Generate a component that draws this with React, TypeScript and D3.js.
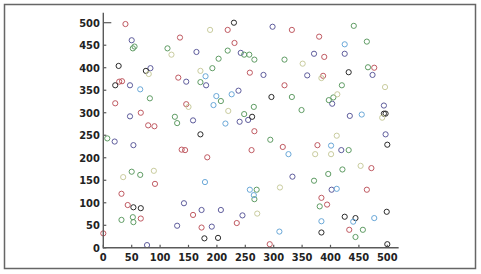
import React from "react";
import * as d3 from "d3";

const redX = [0, 39, 28, 33, 21, 66, 79, 90, 91, 32, 43, 66, 135, 132, 146, 219, 231, 258, 332, 380, 389, 477, 387, 319, 266, 138, 144, 183, 261, 316, 377, 472, 464, 384, 394, 433, 293, 235, 158, 173];
const redY = [32, 497, 369, 370, 321, 300, 272, 270, 142, 120, 95, 65, 467, 378, 319, 484, 455, 389, 484, 469, 424, 400, 382, 361, 259, 218, 217, 201, 217, 224, 228, 177, 129, 111, 96, 40, 8, 55, 73, 45];

const blueX = [50, 83, 47, 47, 20, 53, 77, 146, 164, 181, 242, 282, 298, 371, 425, 474, 359, 238, 158, 240, 255, 419, 403, 434, 494, 497, 333, 402, 245, 142, 173, 207, 130, 191];
const blueY = [461, 399, 361, 292, 236, 228, 6, 369, 435, 361, 433, 384, 491, 431, 431, 384, 383, 349, 283, 280, 284, 217, 320, 293, 316, 252, 158, 129, 72, 99, 84, 84, 49, 47];

const greenX = [52, 55, 82, 7, 50, 65, 32, 52, 53, 113, 171, 192, 203, 219, 248, 257, 266, 319, 441, 464, 466, 332, 349, 207, 126, 130, 248, 265, 294, 432, 397, 405, 420, 421, 396, 371, 381, 457, 444, 270, 266];
const greenY = [443, 447, 332, 243, 169, 162, 62, 68, 57, 443, 368, 399, 420, 438, 429, 429, 418, 418, 493, 458, 401, 335, 306, 326, 291, 277, 297, 313, 240, 217, 328, 334, 361, 174, 164, 149, 92, 40, 24, 129, 108];

const blackX = [27, 75, 21, 53, 66, 230, 432, 296, 262, 171, 494, 497, 500, 384, 425, 444, 499, 500, 178, 202];
const blackY = [404, 393, 361, 90, 88, 500, 390, 335, 291, 252, 298, 298, 229, 34, 69, 66, 80, 8, 21, 22];

const lightBlueX = [65, 180, 226, 199, 194, 215, 326, 401, 425, 455, 411, 384, 440, 477, 310, 258, 265, 179];
const lightBlueY = [352, 381, 341, 337, 317, 276, 208, 227, 452, 296, 131, 59, 58, 66, 36, 129, 117, 146];

const beigeX = [80, 35, 89, 120, 171, 188, 384, 351, 150, 220, 373, 401, 411, 412, 496, 491, 453, 311, 271];
const beigeY = [386, 157, 171, 429, 393, 484, 377, 409, 313, 304, 208, 208, 249, 341, 357, 289, 182, 134, 76];

const yTicks = [0, 50, 100, 150, 200, 250, 300, 350, 400, 450, 500];
const xTicks = [0, 50, 100, 150, 200, 250, 300, 350, 400, 450, 500];

const seriesList = [
  { x: redX, y: redY, color: "#c05a62" },
  { x: blueX, y: blueY, color: "#5e5c9c" },
  { x: greenX, y: greenY, color: "#5f9c64" },
  { x: blackX, y: blackY, color: "#2a2a2a" },
  { x: lightBlueX, y: lightBlueY, color: "#6aa8d8" },
  { x: beigeX, y: beigeY, color: "#c9cc9e" },
];

export default function App() {
  const W = 481;
  const H = 274;
  const x = d3.scaleLinear().domain([0, 500]).range([103.3, 387.3]);
  const y = d3.scaleLinear().domain([0, 500]).range([247.8, 22.7]);
  const axisColor = "#5a5a5a";
  const font = "'Liberation Sans Narrow', 'DejaVu Sans Condensed', sans-serif";
  return (
    <svg width={W} height={H} style={{ position: "absolute", left: 0, top: 0 }}>
      <rect x={0} y={0} width={W} height={H} fill="#fff" />
      <rect x={4.5} y={4.5} width={471} height={264} fill="none" stroke="#666" strokeWidth={1.5} />
      {seriesList.map((s, si) => (
        <g key={si}>
          {s.x.map((vx, i) => (
            <circle key={i} cx={x(vx)} cy={y(s.y[i])} r={2.6} fill="none" stroke={s.color} strokeWidth={1} />
          ))}
        </g>
      ))}
      <line x1={x(0)} x2={x(0)} y1={y(0) + 0.7} y2={y(522)} stroke={axisColor} strokeWidth={1.4} />
      <line x1={x(0)} x2={x(520)} y1={y(0)} y2={y(0)} stroke={axisColor} strokeWidth={1.4} />
      {yTicks.map((t) => (
        <g key={"y" + t}>
          <line x1={x(0)} x2={x(0) + (t === 500 ? 8 : 3)} y1={y(t)} y2={y(t)} stroke={axisColor} strokeWidth={1.2} />
          <text x={x(0) - 3.5} y={y(t)} dy="0.36em" textAnchor="end" fontFamily={font} fontWeight="bold" fontSize={11} fill="#222">
            {t}
          </text>
        </g>
      ))}
      {xTicks.map((t) => (
        <g key={"x" + t}>
          <line x1={x(t)} x2={x(t)} y1={y(0)} y2={y(0) - 3} stroke={axisColor} strokeWidth={1.2} />
          <text x={x(t)} y={261} textAnchor="middle" fontFamily={font} fontWeight="bold" fontSize={11} fill="#222">
            {t}
          </text>
        </g>
      ))}
    </svg>
  );
}
